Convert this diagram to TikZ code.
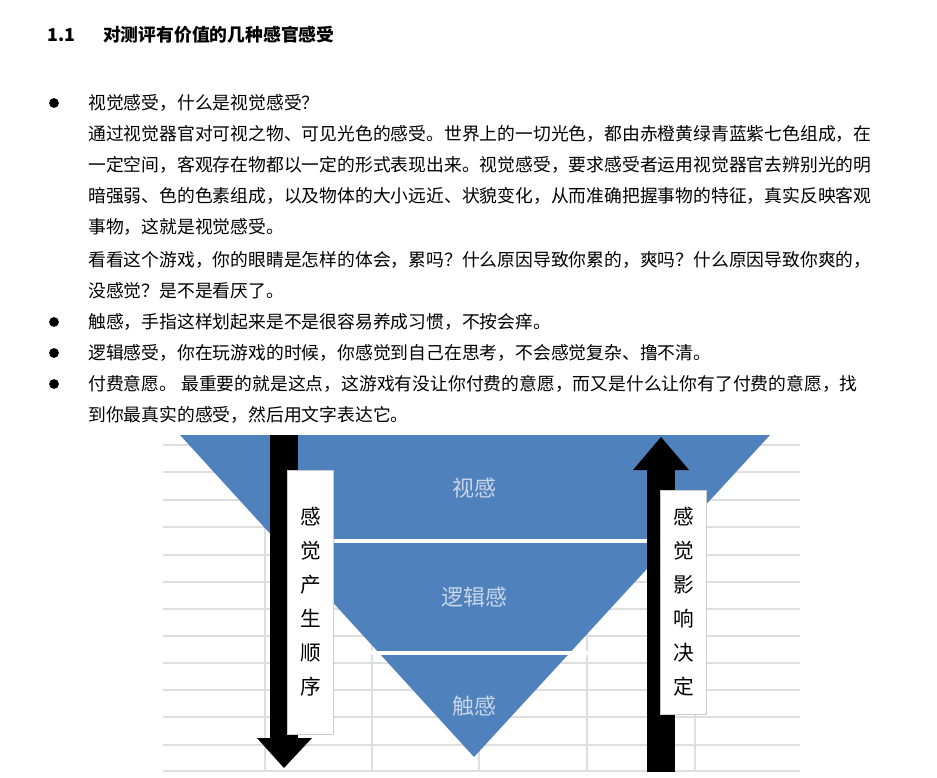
\documentclass[tikz,border=0pt]{standalone}
\usepackage{fontspec}
\setmainfont{Noto Sans CJK SC}
\usetikzlibrary{positioning}
\definecolor{blue1}{HTML}{4F81BD}
\definecolor{blue2}{HTML}{C9D5E8}

\begin{document}
\begin{tikzpicture}[x=0.75pt, y=-0.75pt,
                    txt/.style={anchor=west, inner sep=0pt, font=\fontsize{13.35pt}{15pt}\selectfont},
                    dot/.style={fill, circle, inner sep=2.6pt},
                    grid line/.style={draw=black!13, line width=0.8pt},
                    band/.style={fill=blue1, draw=none},
                    band text/.style={text=blue2, font=\fontsize{16.5pt}{18pt}\selectfont},
                    label box/.style={fill=white, draw=black!20, line width=0.6pt, minimum width=35pt, inner sep=0pt, align=center, font=\fontsize{15.5pt}{25.5pt}\selectfont}
                    ]
    \useasboundingbox (0,0) rectangle (937,777);

    % heading
    \node[txt, font=\bfseries\fontsize{13.35pt}{15pt}\selectfont] (head) at (47,35) {1.1\hspace{21pt}对测评有价值的几种感官感受};

    % text
    \node[txt] (l1) at (88,103) {视觉感受，什么是视觉感受？};
    \node[txt] (l2) at (88,134) {通过视觉器官对可视之物、可见光色的感受。世界上的一切光色，都由赤橙黄绿青蓝紫七色组成，在};
    \node[txt] (l3) at (88,165) {一定空间，客观存在物都以一定的形式表现出来。视觉感受，要求感受者运用视觉器官去辨别光的明};
    \node[txt] (l4) at (88,196) {暗强弱、色的色素组成，以及物体的大小远近、状貌变化，从而准确把握事物的特征，真实反映客观};
    \node[txt] (l5) at (88,227) {事物，这就是视觉感受。};
    \node[txt] (l6) at (88,260) {看看这个游戏，你的眼睛是怎样的体会，累吗？什么原因导致你累的，爽吗？什么原因导致你爽的，};
    \node[txt] (l7) at (88,291) {没感觉？是不是看厌了。};
    \node[txt] (l8) at (88,322) {触感，手指这样划起来是不是很容易养成习惯，不按会痒。};
    \node[txt] (l9) at (88,353) {逻辑感受，你在玩游戏的时候，你感觉到自己在思考，不会感觉复杂、撸不清。};
    \node[txt] (l10) at (88,384) {付费意愿。 最重要的就是这点，这游戏有没让你付费的意愿，而又是什么让你有了付费的意愿，找};
    \node[txt] (l11) at (88,415) {到你最真实的感受，然后用文字表达它。};

    \foreach \y in {103,322,353,384}
        \node[dot] at (54,\y) {};

    % grid
    \foreach \y in {445,472,500,527,555,582,609,636,663,690,717,745,771}
        \draw[grid line] (163,\y) -- (800,\y);
    \foreach \x in {265,372,479,587,695}
        \draw[grid line] (\x,445) -- (\x,771);

    % funnel
    \coordinate (A) at (180,435);
    \coordinate (B) at (770,435);
    \coordinate (C) at (474,757);
    \fill[band] (A) -- (B) -- (C) -- cycle;
    \draw[white, line width=2.5pt] (320,541) -- (660,541);
    \draw[white, line width=2.5pt] (360,653) -- (590,653);

    \node[band text] (vis) at (474,488) {视感};
    \node[band text] (log) at (474,597) {逻辑感};
    \node[band text] (tch) at (474,706) {触感};

    % left arrow
    \fill (270,435) rectangle (298,738);
    \fill (257,738) -- (312,738) -- (284,768) -- cycle;
    \node[label box, minimum height=198pt] (lbox) at (310.5,602) {感\\觉\\产\\生\\顺\\序};

    % right arrow
    \fill (647,470) rectangle (675,772);
    \fill (633,470) -- (689,470) -- (661,437) -- cycle;
    \node[label box, minimum height=168pt] (rbox) at (683.5,602) {感\\觉\\影\\响\\决\\定};
\end{tikzpicture}
\end{document}
